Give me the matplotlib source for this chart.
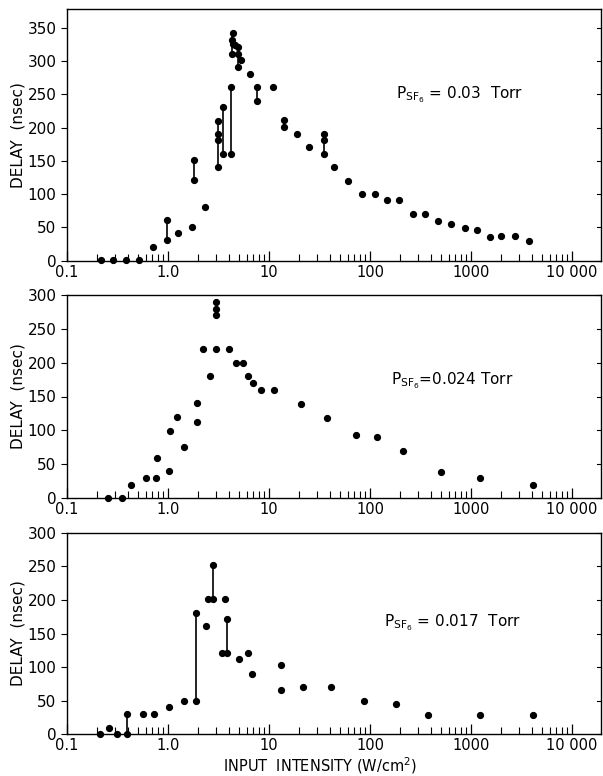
"""
plot.py
Laser pulse delay vs input intensity for three SF6 pressures.
"""

import matplotlib.pyplot as plt
from matplotlib.ticker import FixedLocator, FixedFormatter, LogLocator, NullFormatter

# --- P_SF6 = 0.03 Torr ---
x_03 = [0.218, 0.286, 0.383, 0.519, 0.71, 0.98, 0.98, 1.25, 1.74, 1.80, 1.80, 2.31,
        3.11, 3.11, 3.11, 3.11, 3.49, 3.49, 4.2, 4.2, 4.3, 4.3, 4.39, 4.45, 4.6,
        4.89, 4.89, 4.89, 5.27, 6.43, 7.6, 7.6, 10.97, 14.0, 14.0, 19.0, 25.0,
        35.0, 35.0, 35.0, 44.0, 61.0, 84.0, 112.0, 147.0, 194.0, 264.0, 352.0,
        477.0, 632.0, 875.0, 1142.0, 1560.0, 1973.0, 2734.0, 3731.0]
y_03 = [1, 1, 1, 1, 20, 60.5, 30.5, 41, 50.5, 150.5, 120.5, 80.5,
        210.5, 191, 181, 140.5, 231, 160.5, 261, 160.5, 332, 311, 342, 326, 324,
        321, 311, 291, 301, 281, 261, 240.5, 260.5, 211, 201, 190.5, 170.5,
        190.5, 181, 160.5, 140.5, 119.5, 100.5, 100.5, 90.5, 90.5, 70.5, 70.5,
        60, 55, 49.5, 45.5, 35.5, 36.5, 37, 30]
bar_x_03 = [0.98, 1.80, 3.11, 3.49, 4.2, 4.35, 4.89, 7.6, 14.0, 35.0]
bar_lo_03 = [30.5, 120.5, 140.5, 160.5, 160.5, 311, 291, 240.5, 201, 160.5]
bar_hi_03 = [60.5, 150.5, 210.5, 231, 261, 342, 321, 261, 211, 190.5]

# --- P_SF6 = 0.024 Torr ---
x_024 = [0.255, 0.352, 0.428, 0.60, 0.766, 0.778, 1.03, 1.055, 1.23, 1.45, 1.93, 1.93,
         2.24, 2.59, 2.98, 2.98, 2.98, 2.98, 4.03, 4.70, 5.47, 6.23, 6.93, 8.33,
         11.2, 20.9, 37.4, 72.0, 118.0, 212.0, 503.0, 1233.0, 4150.0]
y_024 = [0, 0, 19.7, 29.6, 29.6, 59.7, 39.5, 99.7, 119.9, 75, 140, 112.5,
         220, 179.6, 289.6, 279.8, 269.9, 220, 220, 199.8, 199.8, 179.6, 169.7, 159.9,
         159.9, 139.1, 118.9, 92.8, 89.8, 69.1, 38.5, 29.1, 19.2]

# --- P_SF6 = 0.017 Torr ---
x_017 = [0.214, 0.261, 0.314, 0.394, 0.394, 0.565, 0.726, 1.03, 1.43, 1.88, 1.88,
         2.38, 2.51, 2.80, 2.80, 3.39, 3.71, 3.83, 3.83, 5.04, 6.23, 6.78, 13.06,
         13.06, 21.9, 41.0, 88.0, 180.0, 378.0, 1233.0, 4084.0]
y_017 = [0, 9.9, 0, 29.8, 0, 29.8, 29.8, 40.2, 50.1, 181, 50.1,
         161.2, 201.3, 251.9, 201.3, 121, 201.3, 171.6, 121, 111.6, 121, 90.3, 103.1,
         65.5, 70.4, 69.9, 49.6, 44.6, 29.3, 29.3, 29.3]
bar_x_017 = [0.394, 1.88, 2.80, 3.83]
bar_lo_017 = [0, 50.1, 201.3, 121]
bar_hi_017 = [29.8, 181, 251.9, 171.6]

XTICKS = [0.1, 1, 10, 100, 1000, 10000]
XTICK_LABELS = ["0.1", "1.0", "10", "100", "1000", "10 000"]

W, H = 603, 776


def setup_axes(ax, ymax, yticks):
    ax.set_xscale("log")
    ax.set_xlim(0.1, 19400)
    ax.set_ylim(0, ymax)
    ax.xaxis.set_major_locator(FixedLocator(XTICKS))
    ax.xaxis.set_major_formatter(FixedFormatter(XTICK_LABELS))
    ax.xaxis.set_minor_locator(LogLocator(base=10, subs=range(2, 10), numticks=20))
    ax.xaxis.set_minor_formatter(NullFormatter())
    ax.set_yticks(yticks)
    ax.tick_params(axis="x", which="major", direction="in", length=7, width=0.9,
                   labelsize=10.5, pad=3)
    ax.tick_params(axis="x", which="minor", direction="in", length=5, width=0.8)
    ax.tick_params(axis="y", which="major", direction="out", length=4, width=0.8,
                   labelsize=11, left=True, right=False)
    for s in ax.spines.values():
        s.set_linewidth(1.0)
    # inward ticks on the right side
    for y in yticks:
        ax.plot([1, 0.992], [y, y], transform=ax.get_yaxis_transform(),
                color="black", lw=0.8, clip_on=False)
    ax.set_ylabel("DELAY  (nsec)", fontsize=11)
    ax.yaxis.set_label_coords(-0.078, 0.5)


def main():
    plt.rcParams["font.family"] = ["DejaVu Sans"]
    fig = plt.figure(figsize=(W / 100, H / 100), dpi=100)

    left, right = 67 / W, 601 / W
    boxes = [(9, 260.7), (295, 498), (532.7, 734.3)]
    axes = []
    for top, bottom in boxes:
        ax = fig.add_axes([left, 1 - bottom / H, right - left, (bottom - top) / H])
        axes.append(ax)

    ax1, ax2, ax3 = axes
    setup_axes(ax1, 378, [0, 50, 100, 150, 200, 250, 300, 350])
    setup_axes(ax2, 300, [0, 50, 100, 150, 200, 250, 300])
    setup_axes(ax3, 300, [0, 50, 100, 150, 200, 250, 300])

    ms = 4.2
    ax1.vlines(bar_x_03, bar_lo_03, bar_hi_03, color="black", lw=1.2)
    ax1.plot(x_03, y_03, "o", color="black", ms=ms, clip_on=False, zorder=3)
    ax2.plot(x_024, y_024, "o", color="black", ms=ms, clip_on=False, zorder=3)
    ax3.vlines(bar_x_017, bar_lo_017, bar_hi_017, color="black", lw=1.2)
    ax3.plot(x_017, y_017, "o", color="black", ms=ms, clip_on=False, zorder=3)

    ax1.text(460 / W, 1 - 95 / H, r"P$_{\mathregular{SF}_6}$ = 0.03  Torr",
             transform=fig.transFigure, ha="center", va="center", fontsize=11)
    ax2.text(452 / W, 1 - 381 / H, r"P$_{\mathregular{SF}_6}$=0.024 Torr",
             transform=fig.transFigure, ha="center", va="center", fontsize=11)
    ax3.text(452 / W, 1 - 623 / H, r"P$_{\mathregular{SF}_6}$ = 0.017  Torr",
             transform=fig.transFigure, ha="center", va="center", fontsize=11)

    fig.text(320 / W, 1 - 766 / H, r"INPUT  INTENSITY (W/cm$^{\mathregular{2}}$)",
             ha="center", va="center", fontsize=10.5)

    fig.savefig("out.png", dpi=100)


if __name__ == "__main__":
    main()
